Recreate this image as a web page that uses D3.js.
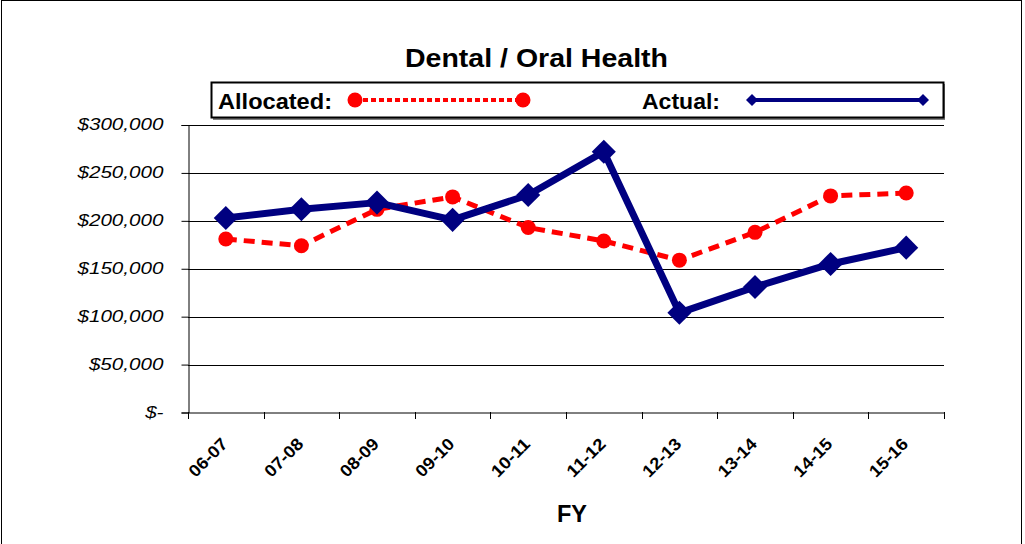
<!DOCTYPE html>
<meta charset="utf-8">
<head>
    <title>Dental / Oral Health</title>
    <script src="https://cdn.jsdelivr.net/npm/d3@7"></script>
    <style>
        body { margin: 0; background: #fff; }
        text { font-family: "Liberation Sans", Arial, sans-serif; }
    </style>
</head>
<body>
<script>

// data
var years = ["06-07","07-08","08-09","09-10","10-11","11-12","12-13","13-14","14-15","15-16"]
var allocated = [181000,174000,212000,225000,193000,179000,159000,188000,226000,229000]
var actual = [203000,212000,219000,201000,227000,272000,104000,131000,155000,172000]
var yTicks = [0,50000,100000,150000,200000,250000,300000]

var w = 1025
var h = 544
var svg = d3.select("body").append("svg").attr("width", w).attr("height", h)

// widen text a bit, the original chart was stretched sideways
function stretch(sel, k) {
    sel.each(function() {
        var len = this.getComputedTextLength()
        d3.select(this).attr("textLength", len * k).attr("lengthAdjust", "spacingAndGlyphs")
    })
}

// outer frame
svg.append("rect")
    .attr("x", 1.5).attr("y", 0.5)
    .attr("width", 1020).attr("height", 560)
    .style("fill", "none").style("stroke", "black").style("stroke-width", 1)

// scales
var x = d3.scaleBand().domain(years).range([188, 944])
var y = d3.scaleLinear().domain([0, 300000]).range([412.5, 125])

// gridlines
svg.append("g")
    .selectAll("line")
    .data(yTicks.slice(1)).enter()
    .append("line")
    .attr("x1", 188).attr("x2", 944)
    .attr("y1", function(d) {return Math.round(y(d)) + 0.5})
    .attr("y2", function(d) {return Math.round(y(d)) + 0.5})
    .style("stroke", "black").style("stroke-width", 1)

// y axis
var yAxis = svg.append("g")
    .attr("transform", "translate(188.5,0)")
    .call(d3.axisLeft(y).tickValues(yTicks).tickSize(7).tickPadding(18)
        .tickFormat(function(d) {return d == 0 ? "$-" : d3.format("$,")(d)}))
yAxis.select(".domain").style("stroke", "black")
yAxis.selectAll("text")
    .style("font-family", "Liberation Sans, Arial, sans-serif")
    .style("font-style", "italic")
    .style("font-size", "16px")
    .attr("dy", "0.3em")
    .attr("fill", "black")
    .call(stretch, 1.29)

// x axis
var xAxis = svg.append("g")
    .attr("transform", "translate(0,412.5)")
    .call(d3.axisBottom(x).tickSize(0).tickFormat(""))
xAxis.select(".domain").style("stroke", "black")
svg.append("g")
    .selectAll("line")
    .data(d3.range(years.length + 1)).enter()
    .append("line")
    .attr("x1", function(i) {return Math.round(188 + i * x.step()) + 0.5})
    .attr("x2", function(i) {return Math.round(188 + i * x.step()) + 0.5})
    .attr("y1", 412).attr("y2", 419)
    .style("stroke", "black")

svg.append("g")
    .selectAll("text")
    .data(years).enter()
    .append("text")
    .attr("transform", function(d) {return "translate(" + (x(d) + x.bandwidth()/2 + 3) + ",445) rotate(-45)"})
    .attr("text-anchor", "end")
    .style("font-weight", "bold")
    .style("font-size", "17px")
    .attr("textLength", 47)
    .attr("lengthAdjust", "spacingAndGlyphs")
    .text(function(d) {return d})

svg.append("text")
    .attr("x", 572).attr("y", 522)
    .attr("text-anchor", "middle")
    .style("font-weight", "bold")
    .style("font-size", "24px")
    .attr("textLength", 30)
    .attr("lengthAdjust", "spacingAndGlyphs")
    .text("FY")

// title
svg.append("text")
    .attr("x", 536.5).attr("y", 67)
    .attr("text-anchor", "middle")
    .style("font-weight", "bold")
    .style("font-size", "26px")
    .attr("textLength", 263)
    .attr("lengthAdjust", "spacingAndGlyphs")
    .text("Dental / Oral Health")

// series
var cx = function(d, i) {return x(years[i]) + x.bandwidth()/2}
var line = d3.line().x(function(d, i) {return cx(d, i)}).y(function(d) {return y(d)})

svg.append("path")
    .datum(allocated)
    .attr("d", line)
    .style("fill", "none").style("stroke", "#ff0000")
    .style("stroke-width", 5).style("stroke-dasharray", "11,7")

svg.append("g")
    .selectAll("circle")
    .data(allocated).enter()
    .append("circle")
    .attr("cx", cx).attr("cy", function(d) {return y(d)})
    .attr("r", 7.5)
    .style("fill", "#ff0000")

svg.append("path")
    .datum(actual)
    .attr("d", line)
    .style("fill", "none").style("stroke", "#000080")
    .style("stroke-width", 7).style("stroke-linejoin", "round")

var diamond = d3.symbol().type(d3.symbolSquare).size(290)
svg.append("g")
    .selectAll("path")
    .data(actual).enter()
    .append("path")
    .attr("d", diamond)
    .attr("transform", function(d, i) {return "translate(" + cx(d, i) + "," + y(d) + ") rotate(45)"})
    .style("fill", "#000080")

// legend
var lg = svg.append("g")
lg.append("rect")
    .attr("x", 213).attr("y", 84).attr("width", 732).attr("height", 36)
    .style("fill", "#808080")
lg.append("rect")
    .attr("x", 211.5).attr("y", 82.5).attr("width", 732).attr("height", 35)
    .style("fill", "white").style("stroke", "black").style("stroke-width", 2)
lg.append("text")
    .attr("x", 218).attr("y", 109)
    .style("font-weight", "bold").style("font-size", "22px")
    .attr("textLength", 114)
    .attr("lengthAdjust", "spacingAndGlyphs")
    .text("Allocated:")
lg.append("line")
    .attr("x1", 355).attr("x2", 523).attr("y1", 100).attr("y2", 100)
    .style("stroke", "#ff0000").style("stroke-width", 4).style("stroke-dasharray", "5,3")
lg.selectAll("circle")
    .data([355, 523]).enter()
    .append("circle")
    .attr("cx", function(d) {return d}).attr("cy", 100).attr("r", 7.5)
    .style("fill", "#ff0000")
lg.append("text")
    .attr("x", 642).attr("y", 109)
    .style("font-weight", "bold").style("font-size", "22px")
    .attr("textLength", 78)
    .attr("lengthAdjust", "spacingAndGlyphs")
    .text("Actual:")
lg.append("line")
    .attr("x1", 752).attr("x2", 923).attr("y1", 100).attr("y2", 100)
    .style("stroke", "#000080").style("stroke-width", 4)
lg.selectAll(".ld")
    .data([752, 923]).enter()
    .append("path")
    .attr("class", "ld")
    .attr("d", d3.symbol().type(d3.symbolSquare).size(72))
    .attr("transform", function(d) {return "translate(" + d + ",100) rotate(45)"})
    .style("fill", "#000080")

</script>
</body>
</html>
